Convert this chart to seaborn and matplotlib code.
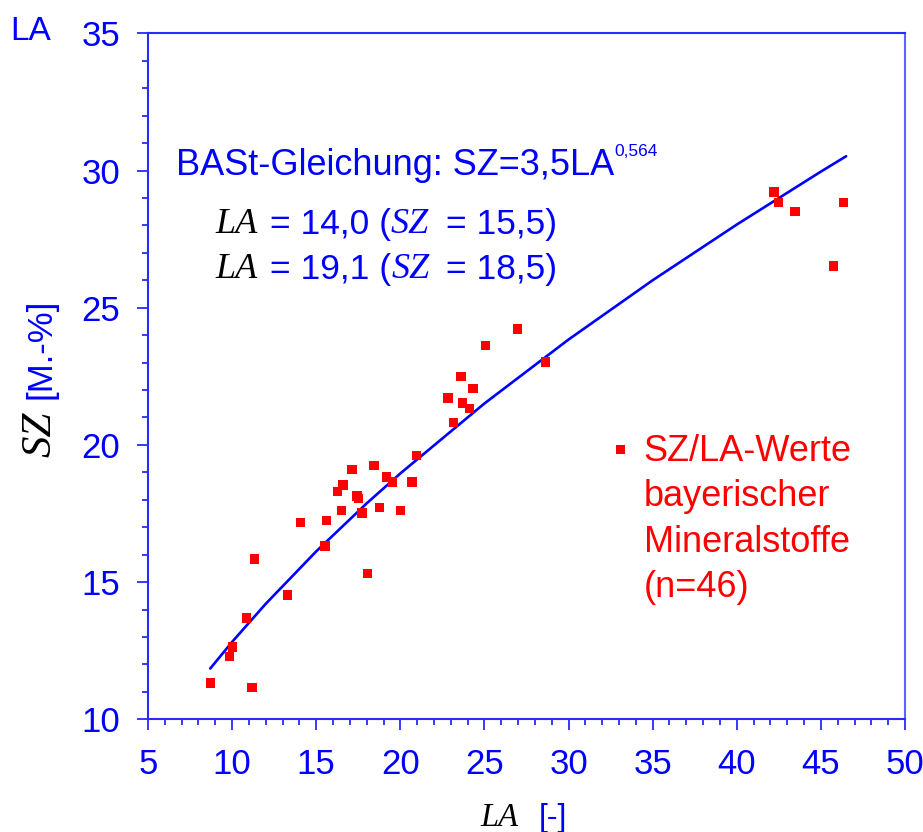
import matplotlib
matplotlib.use("Agg")
import matplotlib.pyplot as plt
from matplotlib.ticker import MultipleLocator
import pandas as pd
import seaborn as sns

# measured SZ/LA pairs (bavarian aggregates)
la_values = [8.73, 9.86, 10.01, 10.87, 11.18, 11.32, 13.31, 14.08, 15.52, 15.62,
             16.25, 16.59, 16.49, 17.13, 17.43, 17.50, 17.72, 18.04, 18.44, 18.78,
             19.19, 19.55, 20.02, 20.70, 20.95, 26.96, 25.05, 23.61, 24.32, 22.84,
             23.71, 24.10, 23.15, 28.64, 42.22, 42.46, 43.47, 46.36, 45.74]
sz_values = [11.32, 12.28, 12.63, 13.69, 11.15, 15.84, 14.53, 17.18, 16.32, 17.24,
             18.29, 18.54, 17.62, 19.10, 18.14, 18.04, 17.52, 15.32, 19.24, 17.71,
             18.83, 18.65, 17.62, 18.65, 19.62, 24.22, 23.63, 22.50, 22.05, 21.71,
             21.53, 21.33, 20.82, 23.02, 29.22, 28.84, 28.51, 28.84, 26.52]

# BASt curve
curve_la = [8.7, 10, 12, 15, 18, 20, 25, 30, 35, 40, 45, 46.5]
curve_sz = [11.85, 12.82, 14.21, 16.12, 17.87, 18.96, 21.51, 23.84, 26.00, 28.03, 29.96, 30.52]

x_ticks = [5, 10, 15, 20, 25, 30, 35, 40, 45, 50]
y_ticks = [10, 15, 20, 25, 30, 35]

points = pd.DataFrame({"LA": la_values, "SZ": sz_values})
curve = pd.DataFrame({"LA": curve_la, "SZ": curve_sz})

sns.set_theme(style="white")
plt.rcParams["font.family"] = ["Liberation Sans", "DejaVu Sans"]

W, H = 923, 832
fig = plt.figure(figsize=(W / 100, H / 100), dpi=100)
ax = fig.add_axes([148 / W, 1 - 719.3 / H, (905 - 148) / W, (719.3 - 33.3) / H])

BLUE = "#0000ff"
RED = "#ff0000"
SPINE = "#2a2aff"

sns.lineplot(data=curve, x="LA", y="SZ", color=BLUE, lw=1.9, ax=ax)
sns.scatterplot(data=points, x="LA", y="SZ", marker="s", s=45, color=RED,
                edgecolor="none", ax=ax, label="SZ/LA-Werte\nbayerischer\nMineralstoffe\n(n=46)",
                zorder=3)

ax.set_xlim(5, 50)
ax.set_ylim(10, 35)
ax.set_xticks(x_ticks)
ax.set_yticks(y_ticks)
ax.xaxis.set_minor_locator(MultipleLocator(1))
ax.yaxis.set_minor_locator(MultipleLocator(1))
ax.set_xlabel("")
ax.set_ylabel("")

for name, sp in ax.spines.items():
    sp.set_color(SPINE)
    sp.set_linewidth(1.5)
ax.spines["right"].set_color("#6060ff")

ax.tick_params(which="both", direction="out", color=SPINE, width=1.3,
               bottom=True, left=True, top=False, right=False)
ax.tick_params(which="major", length=8, labelsize=25, labelcolor=BLUE)
ax.tick_params(which="minor", length=4.5)
ax.tick_params(axis="x", which="major", pad=13)
ax.tick_params(axis="y", which="major", pad=12)

# legend: marker next to first line
leg = ax.legend(loc="upper left", bbox_to_anchor=(610 / W, 1 - 434 / H),
                bbox_transform=fig.transFigure, frameon=False, fontsize=26,
                handlelength=0.6, handletextpad=0.33, borderpad=0, borderaxespad=0,
                markerscale=1.0)
for col in leg._legend_handle_box.get_children():
    for item in col.get_children():
        item.align = "top"
for t in leg.get_texts():
    t.set_color(RED)
    t.set_linespacing(1.38)


def px(x, y):
    return x / W, 1 - y / H


sans = {"family": ["Liberation Sans", "DejaVu Sans"]}
serif_it = {"family": ["Liberation Serif", "DejaVu Serif"], "style": "italic"}

# equation line with superscript
eq = fig.text(*px(176, 183), "BASt-Gleichung: SZ=3,5LA", color=BLUE, fontsize=26,
              va="bottom", ha="left", **sans)
ax.annotate("0,564", xy=(1, 1), xycoords=eq, xytext=(0, 3), textcoords="offset points",
            va="top", ha="left", color=BLUE, fontsize=12.5, **sans)


def line(y, la_val, sz_val):
    t = fig.text(*px(215, y), "LA", color="black", fontsize=26, va="bottom", ha="left", **serif_it)
    t = ax.annotate(" = " + la_val + " (", xy=(1, 0), xycoords=t, xytext=(2, 0),
                    textcoords="offset points", va="bottom", ha="left",
                    color=BLUE, fontsize=25.5, **sans)
    t = ax.annotate("SZ", xy=(1, 0), xycoords=t, va="bottom", ha="left",
                    color=BLUE, fontsize=26, **serif_it)
    ax.annotate(" = " + sz_val + ")", xy=(1, 0), xycoords=t, xytext=(5, 0),
                textcoords="offset points", va="bottom", ha="left",
                color=BLUE, fontsize=25.5, **sans)


line(241, "14,0", "15,5")
line(286, "19,1", "18,5")

# axis labels
fig.text(*px(10, 40), "LA", color=BLUE, fontsize=24, va="baseline", ha="left", **sans)
fig.text(*px(480, 826), "LA", color="black", fontsize=23.5, va="baseline", ha="left", **serif_it)
fig.text(*px(539, 826), "[-]", color=BLUE, fontsize=23, va="baseline", ha="left", **sans)
fig.text(*px(40, 457), "SZ", color="black", fontsize=31, rotation=90, va="bottom", ha="center", **serif_it)
fig.text(*px(41, 399), "[M.-%]", color=BLUE, fontsize=25, rotation=90, va="bottom", ha="center", **sans)

fig.savefig("out.png", dpi=100)
